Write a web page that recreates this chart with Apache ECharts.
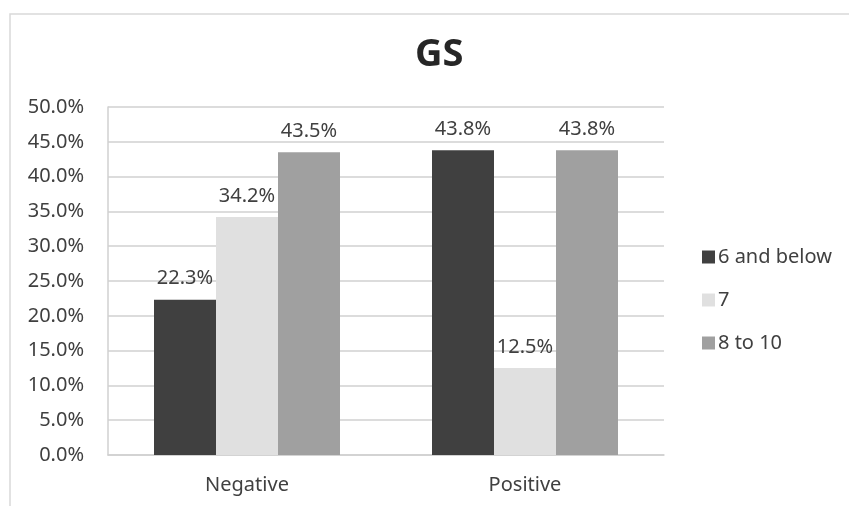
<!DOCTYPE html>
<html>
<head>
<meta charset="utf-8">
<script src="https://cdn.jsdelivr.net/npm/echarts@6/dist/echarts.min.js"></script>
<style>
  html, body { margin: 0; padding: 0; background: #fff; }
  #chart { width: 849px; height: 506px; }
</style>
</head>
<body>
<div id="chart"></div>
<script>
// GS distribution by group (percent)
const categories = ['Negative', 'Positive'];
const seriesNames = ['6 and below', '7', '8 to 10'];
const sixAndBelow = [22.3, 43.8];
const seven = [34.2, 12.5];
const eightToTen = [43.5, 43.8];
const seriesColors = ['#404040', '#e0e0e0', '#a0a0a0'];
const yMin = 0, yMax = 50, yStep = 5;

const FONT = '"Noto Sans", sans-serif';
const TEXT = '#404040';

const values = [sixAndBelow, seven, eightToTen];

const chart = echarts.init(document.getElementById('chart'), null, { renderer: 'canvas' });

chart.setOption({
  animation: false,
  backgroundColor: '#ffffff',
  textStyle: { fontFamily: FONT, color: TEXT },
  graphic: [{
    type: 'rect',
    shape: { x: 10, y: 14, width: 900, height: 600 },
    style: { fill: 'none', stroke: '#d9d9d9', lineWidth: 1.5 },
    silent: true, z: -1
  }],
  title: {
    text: 'GS',
    left: 410,
    top: 31,
    textStyle: { fontFamily: FONT, fontSize: 38, fontWeight: 'bold', color: '#262626' }
  },
  legend: {
    orient: 'vertical',
    left: 697,
    top: 242,
    itemWidth: 13,
    itemHeight: 13,
    itemGap: 23,
    icon: 'rect',
    data: seriesNames,
    textStyle: { fontFamily: FONT, fontSize: 20, color: TEXT, padding: [0, 0, 0, -2] }
  },
  grid: { left: 108, right: 185, top: 107, bottom: 51, containLabel: false },
  xAxis: {
    type: 'category',
    data: categories,
    axisTick: { show: false },
    axisLine: { lineStyle: { color: '#d0d0d0', width: 1.5 } },
    axisLabel: { fontFamily: FONT, fontSize: 20, color: TEXT, margin: 20 }
  },
  yAxis: {
    type: 'value',
    min: yMin,
    max: yMax,
    interval: yStep,
    axisLine: { show: true, lineStyle: { color: '#d0d0d0', width: 1.5 } },
    axisTick: { show: false },
    splitLine: { lineStyle: { color: '#d0d0d0', width: 1.5 } },
    axisLabel: {
      fontFamily: FONT, fontSize: 20, color: TEXT, margin: 24,
      formatter: v => v.toFixed(1) + '%'
    }
  },
  series: seriesNames.map((name, i) => ({
    name,
    type: 'bar',
    data: values[i],
    barWidth: 62,
    barGap: '0%',
    itemStyle: { color: seriesColors[i] },
    label: {
      show: true,
      position: 'top',
      distance: 11,
      fontFamily: FONT,
      fontSize: 20,
      color: TEXT,
      formatter: p => p.value.toFixed(1) + '%'
    }
  }))
});
</script>
</body>
</html>
